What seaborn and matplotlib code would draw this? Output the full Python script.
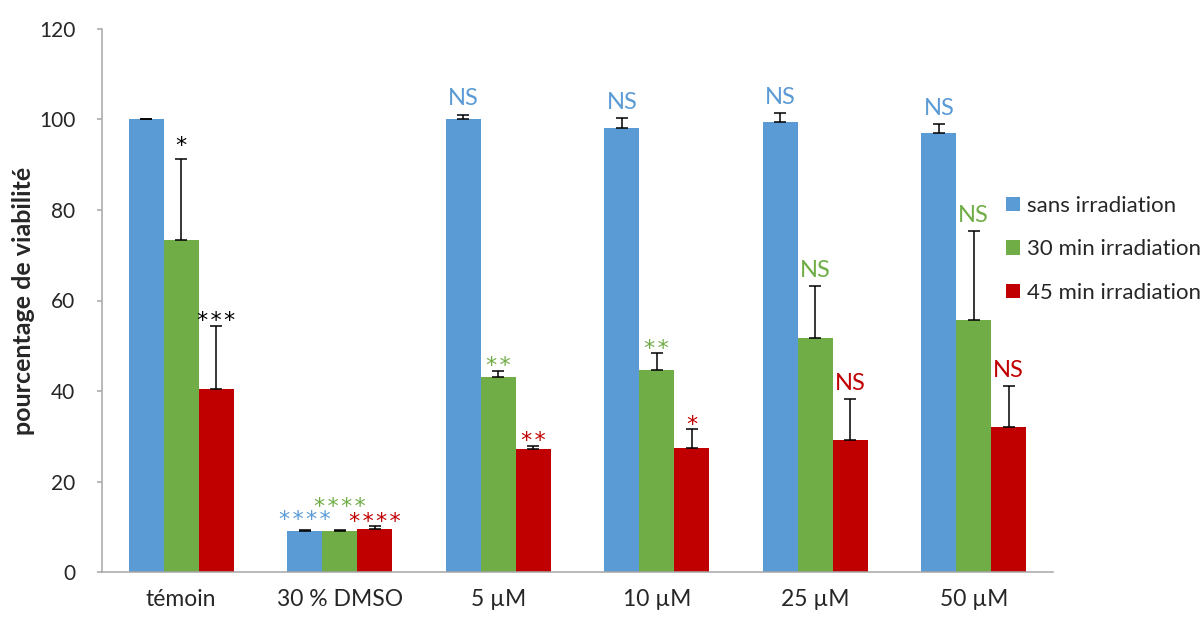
import matplotlib
matplotlib.use("Agg")
import matplotlib.pyplot as plt
import seaborn as sns
import pandas as pd

# conditions and series
conditions = ["témoin", "30 % DMSO", "5 µM", "10 µM", "25 µM", "50 µM"]
series = ["sans irradiation", "30 min irradiation", "45 min irradiation"]

# mean viability (%) per series, one value per condition
sans_irr = [100.0, 9.0, 100.0, 98.1, 99.5, 97.1]
irr_30 = [73.3, 9.1, 43.0, 44.7, 51.7, 55.7]
irr_45 = [40.4, 9.6, 27.2, 27.5, 29.2, 32.0]

# standard deviations
sans_irr_err = [0.1, 0.35, 1.1, 2.2, 1.9, 2.0]
irr_30_err = [17.9, 0.2, 1.4, 3.6, 11.4, 19.7]
irr_45_err = [14.0, 0.5, 0.7, 4.0, 9.0, 9.1]

# significance labels
sans_irr_sig = ["", "****", "NS", "NS", "NS", "NS"]
irr_30_sig = ["*", "****", "**", "**", "NS", "NS"]
irr_45_sig = ["***", "****", "**", "*", "NS", "NS"]

colors = ["#5B9BD5", "#70AD47", "#C00000"]
axis_grey = "#A6A6A6"

values = [sans_irr, irr_30, irr_45]
errors = [sans_irr_err, irr_30_err, irr_45_err]
sigs = [sans_irr_sig, irr_30_sig, irr_45_sig]

df = pd.DataFrame(
    [(c, s, v) for s, vals in zip(series, values) for c, v in zip(conditions, vals)],
    columns=["condition", "serie", "viabilite"],
)

sns.set_theme(style="white")
plt.rcParams["font.family"] = ["Lato", "DejaVu Sans"]

fig = plt.figure(figsize=(12.03, 6.17), dpi=100)
ax = fig.add_axes([102 / 1203, 45 / 617, 951 / 1203, 543 / 617])

sns.barplot(data=df, x="condition", y="viabilite", hue="serie",
            order=conditions, hue_order=series, palette=colors,
            width=0.66, gap=0, saturation=1, errorbar=None, ax=ax,
            linewidth=0)

# extra lift (points) for labels that would collide: (condition, serie)
extra_lift = {(0, 1): 6.5, (1, 0): 3.5, (1, 1): 13.5}

bar_containers = list(ax.containers)
for si, container in enumerate(bar_containers):
    for ci, bar in enumerate(container.patches):
        x = bar.get_x() + bar.get_width() / 2
        top = bar.get_height()
        err = errors[si][ci]
        ax.errorbar(x, top, yerr=[[0], [err]], fmt="none", ecolor="black",
                    elinewidth=1.1, capsize=4.3, capthick=1.1)
        label = sigs[si][ci]
        if not label:
            continue
        col = "black" if ci == 0 else colors[si]
        if label.startswith("*"):
            # spread the stars a little, like the original
            label = "\u200a".join(label)
            dy, fam, size = -1, "DejaVu Sans", 16
        else:
            dy, fam, size = 6.5, "Lato", 17
        dy += extra_lift.get((ci, si), 0)
        ax.annotate(label, xy=(x, top + err), xytext=(0, dy),
                    textcoords="offset points", ha="center", va="baseline",
                    color=col, fontsize=size, family=fam)

ax.set_ylim(0, 120)
ax.set_xlim(-0.5, len(conditions) - 0.5)
ax.set_yticks(range(0, 121, 20))
ax.set_xlabel("")
ax.set_ylabel("pourcentage de viabilité", fontsize=18, fontweight="bold", labelpad=3)

ax.set_xticks([i - 0.5 for i in range(len(conditions) + 1)], minor=True)
ax.tick_params(axis="x", which="major", length=0, pad=12, labelsize=16.5)
ax.tick_params(axis="x", which="minor", length=6, color=axis_grey, width=1.1)
ax.tick_params(axis="y", length=3.6, color=axis_grey, width=1.1, pad=15.5, labelsize=15, left=True)

sns.despine(ax=ax)
for side in ["left", "bottom"]:
    ax.spines[side].set_color(axis_grey)
    ax.spines[side].set_linewidth(1.1)

handles, labels = ax.get_legend_handles_labels()
ax.legend(handles, labels, loc="upper left", bbox_to_anchor=(1006 / 1203, 1 - 196 / 617),
          bbox_transform=fig.transFigure, frameon=False, fontsize=16,
          handlelength=0.63, handleheight=0.63, handletextpad=0.3, labelspacing=1.05,
          borderaxespad=0, borderpad=0)

fig.savefig("out.png", dpi=100)
